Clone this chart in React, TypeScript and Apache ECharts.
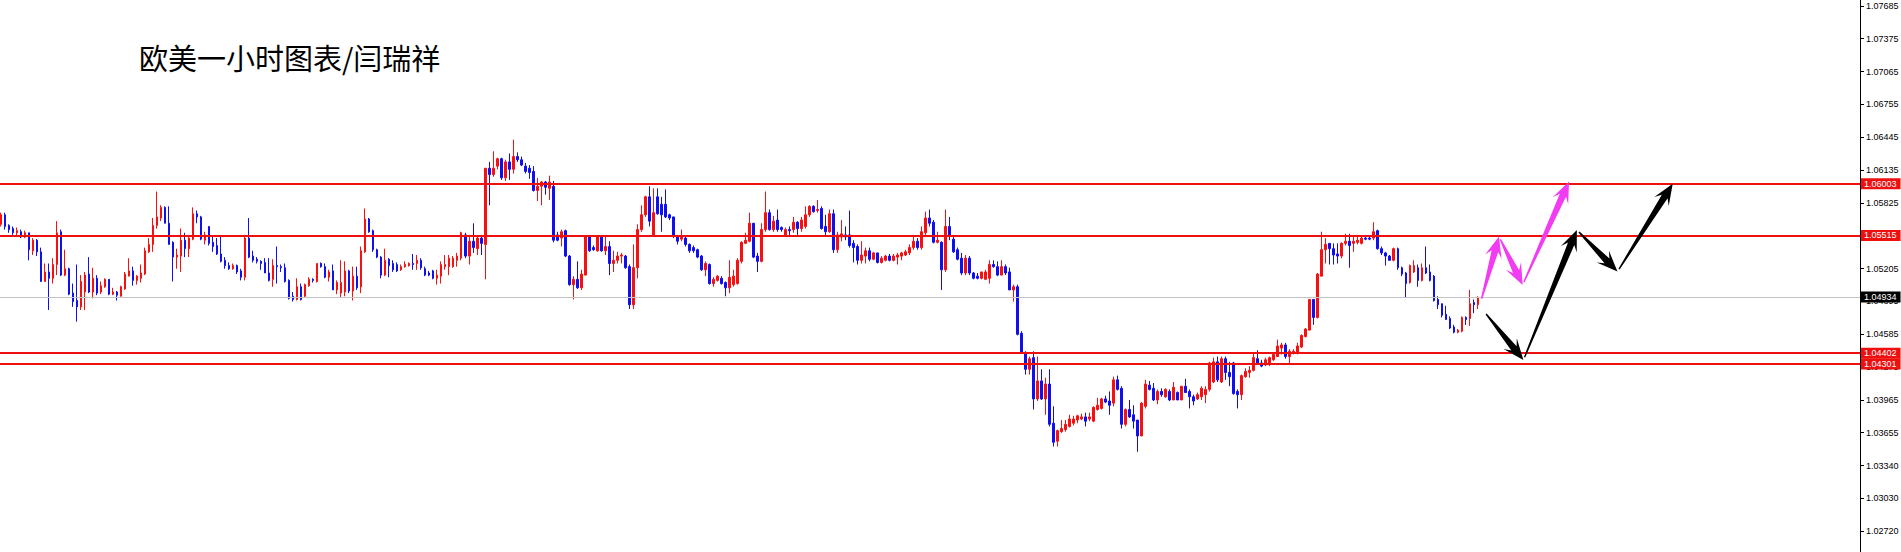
import React, { useEffect, useRef } from "react";
import * as echarts from "echarts";

const TITLE = "欧美一小时图表/闫瑞祥";
const tickLabels = ["1.02720", "1.03030", "1.03340", "1.03655", "1.03965", "1.04275", "1.04585", "1.04895", "1.05205", "1.05515", "1.05825", "1.06135", "1.06445", "1.06755", "1.07065", "1.07375", "1.07685"];
const tickStart = 1.0272;
const tickStep = 0.0031031;
const levelValues = [1.06003, 1.05515, 1.04402, 1.04301];
const currentPrice = 1.04934;
const futureSlots = 95;

// [open, close, low, high]
const candles: number[][] = [
  [1.0562,1.0571,1.0560,1.0573],[1.0571,1.0560,1.0557,1.0573],[1.0561,1.0557,1.0554,1.0562],[1.0558,1.0554,1.0552,1.0560],[1.0554,1.0556,1.0551,1.0559],
  [1.0555,1.0550,1.0549,1.0557],[1.0550,1.0554,1.0549,1.0556],[1.0554,1.0538,1.0528,1.0554],[1.0537,1.0547,1.0533,1.0549],[1.0547,1.0536,1.0532,1.0548],
  [1.0536,1.0508,1.0508,1.0540],[1.0508,1.0517,1.0508,1.0525],[1.0517,1.0511,1.0481,1.0525],[1.0511,1.0524,1.0506,1.0530],[1.0524,1.0554,1.0514,1.0565],
  [1.0555,1.0514,1.0513,1.0557],[1.0514,1.0520,1.0513,1.0538],[1.0520,1.0496,1.0495,1.0521],[1.0497,1.0489,1.0484,1.0506],[1.0490,1.0484,1.0470,1.0524],
  [1.0484,1.0508,1.0481,1.0514],[1.0498,1.0514,1.0481,1.0517],[1.0515,1.0498,1.0497,1.0531],[1.0498,1.0511,1.0492,1.0521],[1.0511,1.0497,1.0495,1.0514],
  [1.0498,1.0504,1.0496,1.0508],[1.0503,1.0510,1.0502,1.0511],[1.0510,1.0496,1.0495,1.0510],[1.0496,1.0498,1.0495,1.0502],[1.0498,1.0495,1.0490,1.0499],
  [1.0494,1.0503,1.0494,1.0504],[1.0501,1.0515,1.0500,1.0517],[1.0513,1.0518,1.0513,1.0530],[1.0518,1.0509,1.0504,1.0522],[1.0509,1.0513,1.0505,1.0514],
  [1.0511,1.0516,1.0507,1.0524],[1.0515,1.0537,1.0514,1.0540],[1.0536,1.0543,1.0535,1.0549],[1.0543,1.0561,1.0536,1.0568],[1.0561,1.0569,1.0558,1.0593],
  [1.0568,1.0578,1.0565,1.0580],[1.0578,1.0563,1.0563,1.0579],[1.0563,1.0543,1.0543,1.0579],[1.0545,1.0531,1.0508,1.0546],[1.0531,1.0533,1.0520,1.0539],
  [1.0532,1.0547,1.0517,1.0558],[1.0547,1.0539,1.0531,1.0554],[1.0539,1.0549,1.0531,1.0552],[1.0548,1.0572,1.0547,1.0578],[1.0572,1.0569,1.0563,1.0575],
  [1.0569,1.0548,1.0547,1.0570],[1.0547,1.0552,1.0543,1.0555],[1.0560,1.0544,1.0542,1.0560],[1.0545,1.0541,1.0536,1.0551],[1.0542,1.0534,1.0533,1.0549],
  [1.0534,1.0527,1.0526,1.0550],[1.0528,1.0523,1.0520,1.0531],[1.0523,1.0520,1.0519,1.0526],[1.0520,1.0523,1.0519,1.0525],[1.0523,1.0517,1.0515,1.0524],
  [1.0518,1.0512,1.0509,1.0520],[1.0512,1.0549,1.0509,1.0552],[1.0549,1.0531,1.0530,1.0568],[1.0532,1.0528,1.0526,1.0537],[1.0529,1.0527,1.0525,1.0531],
  [1.0527,1.0525,1.0519,1.0528],[1.0526,1.0516,1.0516,1.0530],[1.0516,1.0509,1.0508,1.0530],[1.0510,1.0523,1.0503,1.0529],[1.0523,1.0522,1.0506,1.0541],
  [1.0522,1.0521,1.0517,1.0524],[1.0521,1.0508,1.0507,1.0525],[1.0509,1.0492,1.0491,1.0510],[1.0494,1.0491,1.0489,1.0498],[1.0491,1.0503,1.0490,1.0511],
  [1.0503,1.0491,1.0490,1.0506],[1.0494,1.0505,1.0493,1.0506],[1.0504,1.0510,1.0503,1.0512],[1.0510,1.0509,1.0507,1.0511],[1.0508,1.0525,1.0507,1.0525],
  [1.0525,1.0522,1.0521,1.0526],[1.0522,1.0512,1.0511,1.0525],[1.0512,1.0517,1.0508,1.0519],[1.0518,1.0500,1.0500,1.0524],[1.0500,1.0507,1.0496,1.0509],
  [1.0497,1.0507,1.0493,1.0528],[1.0498,1.0518,1.0494,1.0527],[1.0518,1.0499,1.0497,1.0519],[1.0499,1.0513,1.0490,1.0522],[1.0513,1.0502,1.0500,1.0522],
  [1.0503,1.0537,1.0497,1.0541],[1.0536,1.0567,1.0535,1.0577],[1.0567,1.0555,1.0554,1.0568],[1.0556,1.0538,1.0536,1.0557],[1.0538,1.0531,1.0530,1.0539],
  [1.0531,1.0514,1.0511,1.0532],[1.0514,1.0528,1.0513,1.0539],[1.0529,1.0523,1.0512,1.0530],[1.0525,1.0519,1.0517,1.0528],[1.0524,1.0518,1.0517,1.0526],
  [1.0519,1.0522,1.0518,1.0524],[1.0522,1.0524,1.0521,1.0527],[1.0523,1.0525,1.0522,1.0526],[1.0525,1.0524,1.0519,1.0534],[1.0525,1.0528,1.0519,1.0533],
  [1.0528,1.0521,1.0519,1.0530],[1.0520,1.0514,1.0513,1.0522],[1.0516,1.0514,1.0513,1.0518],[1.0518,1.0511,1.0510,1.0519],[1.0511,1.0514,1.0505,1.0519],
  [1.0513,1.0524,1.0506,1.0527],[1.0522,1.0524,1.0519,1.0533],[1.0522,1.0530,1.0514,1.0533],[1.0522,1.0530,1.0521,1.0532],[1.0528,1.0532,1.0522,1.0535],
  [1.0530,1.0554,1.0528,1.0555],[1.0552,1.0532,1.0530,1.0554],[1.0532,1.0546,1.0524,1.0552],[1.0546,1.0540,1.0535,1.0563],[1.0539,1.0549,1.0533,1.0551],
  [1.0549,1.0544,1.0533,1.0552],[1.0543,1.0615,1.0510,1.0615],[1.0615,1.0609,1.0580,1.0621],[1.0609,1.0615,1.0607,1.0631],[1.0617,1.0624,1.0614,1.0625],
  [1.0624,1.0606,1.0604,1.0625],[1.0606,1.0621,1.0603,1.0623],[1.0621,1.0614,1.0604,1.0629],[1.0614,1.0626,1.0610,1.0642],[1.0626,1.0623,1.0621,1.0630],
  [1.0623,1.0618,1.0617,1.0626],[1.0617,1.0612,1.0610,1.0620],[1.0615,1.0611,1.0605,1.0618],[1.0612,1.0594,1.0593,1.0617],[1.0594,1.0598,1.0584,1.0606],
  [1.0598,1.0602,1.0580,1.0603],[1.0602,1.0597,1.0590,1.0603],[1.0596,1.0602,1.0585,1.0608],[1.0598,1.0547,1.0545,1.0603],[1.0552,1.0547,1.0546,1.0555],
  [1.0549,1.0555,1.0541,1.0557],[1.0556,1.0532,1.0531,1.0557],[1.0532,1.0505,1.0504,1.0533],[1.0505,1.0510,1.0491,1.0513],[1.0510,1.0502,1.0501,1.0527],
  [1.0502,1.0515,1.0500,1.0519],[1.0514,1.0550,1.0514,1.0551],[1.0550,1.0537,1.0536,1.0551],[1.0540,1.0538,1.0537,1.0542],[1.0537,1.0550,1.0536,1.0551],
  [1.0550,1.0537,1.0536,1.0551],[1.0537,1.0541,1.0533,1.0551],[1.0541,1.0525,1.0514,1.0546],[1.0525,1.0528,1.0517,1.0537],[1.0528,1.0532,1.0525,1.0536],
  [1.0532,1.0533,1.0525,1.0535],[1.0532,1.0521,1.0520,1.0533],[1.0522,1.0486,1.0482,1.0524],[1.0486,1.0521,1.0482,1.0543],[1.0521,1.0557,1.0511,1.0562],
  [1.0557,1.0571,1.0555,1.0580],[1.0571,1.0588,1.0569,1.0589],[1.0588,1.0565,1.0560,1.0598],[1.0552,1.0573,1.0551,1.0596],[1.0588,1.0572,1.0571,1.0596],
  [1.0581,1.0571,1.0555,1.0588],[1.0581,1.0569,1.0568,1.0595],[1.0571,1.0568,1.0566,1.0572],[1.0569,1.0551,1.0549,1.0569],[1.0551,1.0546,1.0543,1.0552],
  [1.0548,1.0551,1.0546,1.0557],[1.0549,1.0543,1.0541,1.0551],[1.0543,1.0537,1.0535,1.0544],[1.0540,1.0537,1.0535,1.0542],[1.0538,1.0531,1.0530,1.0539],
  [1.0532,1.0519,1.0518,1.0533],[1.0519,1.0525,1.0513,1.0527],[1.0524,1.0506,1.0505,1.0525],[1.0506,1.0510,1.0503,1.0512],[1.0509,1.0513,1.0508,1.0514],
  [1.0511,1.0506,1.0505,1.0513],[1.0507,1.0502,1.0494,1.0508],[1.0502,1.0512,1.0497,1.0528],[1.0505,1.0513,1.0503,1.0519],[1.0506,1.0528,1.0505,1.0530],
  [1.0527,1.0545,1.0525,1.0546],[1.0544,1.0547,1.0544,1.0554],[1.0546,1.0563,1.0545,1.0573],[1.0563,1.0531,1.0530,1.0563],[1.0532,1.0527,1.0517,1.0535],
  [1.0527,1.0557,1.0526,1.0563],[1.0557,1.0573,1.0555,1.0593],[1.0573,1.0557,1.0556,1.0576],[1.0557,1.0565,1.0555,1.0570],[1.0566,1.0557,1.0555,1.0576],
  [1.0559,1.0557,1.0555,1.0560],[1.0551,1.0557,1.0551,1.0559],[1.0557,1.0556,1.0552,1.0560],[1.0557,1.0564,1.0554,1.0569],[1.0564,1.0558,1.0552,1.0565],
  [1.0558,1.0566,1.0555,1.0569],[1.0560,1.0571,1.0558,1.0579],[1.0571,1.0579,1.0569,1.0580],[1.0579,1.0574,1.0573,1.0580],[1.0575,1.0576,1.0573,1.0585],
  [1.0577,1.0558,1.0557,1.0579],[1.0560,1.0555,1.0551,1.0571],[1.0555,1.0572,1.0554,1.0576],[1.0572,1.0538,1.0535,1.0576],[1.0538,1.0552,1.0535,1.0555],
  [1.0550,1.0553,1.0546,1.0566],[1.0552,1.0550,1.0547,1.0560],[1.0552,1.0542,1.0540,1.0575],[1.0544,1.0540,1.0526,1.0547],[1.0541,1.0528,1.0524,1.0543],
  [1.0528,1.0533,1.0525,1.0546],[1.0532,1.0537,1.0525,1.0540],[1.0537,1.0529,1.0527,1.0540],[1.0529,1.0535,1.0528,1.0536],[1.0535,1.0526,1.0525,1.0535],
  [1.0526,1.0530,1.0525,1.0532],[1.0528,1.0532,1.0527,1.0533],[1.0532,1.0528,1.0527,1.0534],[1.0528,1.0532,1.0527,1.0534],[1.0531,1.0533,1.0524,1.0535],
  [1.0532,1.0535,1.0528,1.0536],[1.0533,1.0536,1.0532,1.0538],[1.0535,1.0540,1.0533,1.0543],[1.0540,1.0546,1.0538,1.0551],[1.0546,1.0540,1.0538,1.0549],
  [1.0540,1.0555,1.0538,1.0560],[1.0554,1.0568,1.0552,1.0574],[1.0568,1.0563,1.0560,1.0576],[1.0564,1.0545,1.0544,1.0566],[1.0545,1.0547,1.0544,1.0555],
  [1.0545,1.0519,1.0500,1.0546],[1.0519,1.0560,1.0517,1.0576],[1.0560,1.0552,1.0547,1.0569],[1.0548,1.0536,1.0535,1.0552],[1.0538,1.0529,1.0528,1.0540],
  [1.0530,1.0516,1.0514,1.0535],[1.0516,1.0530,1.0514,1.0533],[1.0530,1.0516,1.0514,1.0532],[1.0516,1.0511,1.0510,1.0517],[1.0513,1.0511,1.0510,1.0516],
  [1.0511,1.0517,1.0510,1.0517],[1.0510,1.0517,1.0510,1.0519],[1.0511,1.0524,1.0506,1.0528],[1.0524,1.0522,1.0521,1.0528],[1.0522,1.0514,1.0513,1.0527],
  [1.0514,1.0522,1.0514,1.0528],[1.0522,1.0516,1.0514,1.0524],[1.0517,1.0500,1.0500,1.0521],[1.0500,1.0503,1.0489,1.0505],[1.0503,1.0458,1.0457,1.0505],
  [1.0459,1.0441,1.0440,1.0461],[1.0441,1.0425,1.0420,1.0442],[1.0425,1.0435,1.0420,1.0437],[1.0436,1.0397,1.0387,1.0442],[1.0397,1.0414,1.0395,1.0437],
  [1.0414,1.0397,1.0396,1.0425],[1.0397,1.0411,1.0382,1.0417],[1.0411,1.0373,1.0371,1.0425],[1.0374,1.0356,1.0352,1.0390],[1.0357,1.0367,1.0352,1.0368],
  [1.0366,1.0369,1.0365,1.0377],[1.0368,1.0373,1.0366,1.0377],[1.0371,1.0378,1.0370,1.0382],[1.0374,1.0378,1.0372,1.0381],[1.0377,1.0381,1.0374,1.0382],
  [1.0378,1.0380,1.0377,1.0383],[1.0380,1.0376,1.0371,1.0384],[1.0378,1.0380,1.0376,1.0384],[1.0376,1.0389,1.0375,1.0390],[1.0387,1.0391,1.0386,1.0398],
  [1.0388,1.0397,1.0387,1.0398],[1.0397,1.0394,1.0393,1.0400],[1.0395,1.0391,1.0382,1.0404],[1.0393,1.0415,1.0390,1.0418],[1.0415,1.0406,1.0405,1.0419],
  [1.0407,1.0373,1.0369,1.0409],[1.0373,1.0387,1.0371,1.0388],[1.0387,1.0380,1.0379,1.0396],[1.0382,1.0376,1.0369,1.0391],[1.0377,1.0362,1.0347,1.0377],
  [1.0362,1.0393,1.0362,1.0394],[1.0390,1.0411,1.0388,1.0415],[1.0410,1.0406,1.0405,1.0414],[1.0407,1.0396,1.0395,1.0412],[1.0396,1.0404,1.0392,1.0406],
  [1.0404,1.0401,1.0399,1.0407],[1.0399,1.0406,1.0398,1.0407],[1.0404,1.0396,1.0395,1.0406],[1.0396,1.0408,1.0396,1.0413],[1.0403,1.0396,1.0396,1.0404],
  [1.0396,1.0409,1.0396,1.0409],[1.0409,1.0403,1.0403,1.0416],[1.0404,1.0399,1.0388,1.0406],[1.0399,1.0395,1.0391,1.0401],[1.0397,1.0401,1.0396,1.0403],
  [1.0399,1.0407,1.0396,1.0409],[1.0401,1.0406,1.0393,1.0409],[1.0406,1.0431,1.0404,1.0432],[1.0413,1.0432,1.0412,1.0436],[1.0432,1.0415,1.0413,1.0437],
  [1.0413,1.0435,1.0412,1.0437],[1.0435,1.0422,1.0415,1.0437],[1.0422,1.0418,1.0409,1.0432],[1.0431,1.0402,1.0401,1.0432],[1.0404,1.0401,1.0388,1.0406],
  [1.0401,1.0419,1.0396,1.0420],[1.0418,1.0423,1.0417,1.0426],[1.0422,1.0424,1.0417,1.0428],[1.0424,1.0436,1.0423,1.0440],[1.0435,1.0431,1.0431,1.0443],
  [1.0431,1.0428,1.0427,1.0434],[1.0429,1.0434,1.0428,1.0436],[1.0430,1.0436,1.0428,1.0437],[1.0434,1.0439,1.0433,1.0440],[1.0437,1.0447,1.0437,1.0453],
  [1.0445,1.0448,1.0439,1.0450],[1.0448,1.0437,1.0435,1.0450],[1.0437,1.0442,1.0430,1.0444],[1.0440,1.0442,1.0439,1.0444],[1.0440,1.0447,1.0439,1.0450],
  [1.0446,1.0457,1.0445,1.0458],[1.0456,1.0463,1.0455,1.0464],[1.0462,1.0491,1.0462,1.0491],[1.0491,1.0474,1.0467,1.0491],[1.0474,1.0515,1.0473,1.0516],
  [1.0513,1.0538,1.0513,1.0555],[1.0538,1.0543,1.0525,1.0549],[1.0544,1.0539,1.0524,1.0544],[1.0539,1.0533,1.0524,1.0544],[1.0534,1.0532,1.0525,1.0544],
  [1.0532,1.0544,1.0530,1.0545],[1.0544,1.0546,1.0542,1.0553],[1.0546,1.0542,1.0521,1.0553],[1.0544,1.0546,1.0536,1.0551],[1.0545,1.0547,1.0543,1.0550],
  [1.0544,1.0549,1.0543,1.0550],[1.0549,1.0548,1.0547,1.0550],[1.0549,1.0548,1.0547,1.0550],[1.0549,1.0555,1.0547,1.0564],[1.0556,1.0539,1.0538,1.0557],
  [1.0539,1.0535,1.0533,1.0541],[1.0535,1.0532,1.0523,1.0536],[1.0532,1.0528,1.0528,1.0533],[1.0528,1.0539,1.0527,1.0540],[1.0539,1.0521,1.0519,1.0540],
  [1.0521,1.0515,1.0513,1.0522],[1.0516,1.0506,1.0493,1.0517],[1.0507,1.0523,1.0506,1.0524],[1.0517,1.0523,1.0516,1.0528],[1.0521,1.0509,1.0503,1.0524],
  [1.0509,1.0521,1.0508,1.0525],[1.0521,1.0516,1.0515,1.0541],[1.0517,1.0509,1.0508,1.0524],[1.0513,1.0490,1.0489,1.0514],[1.0491,1.0486,1.0482,1.0494],
  [1.0487,1.0476,1.0474,1.0487],[1.0477,1.0472,1.0472,1.0485],[1.0473,1.0464,1.0463,1.0475],[1.0465,1.0460,1.0459,1.0467],[1.0460,1.0462,1.0459,1.0463],
  [1.0461,1.0474,1.0460,1.0475],[1.0474,1.0472,1.0467,1.0475],[1.0473,1.0487,1.0466,1.0500],[1.0488,1.0486,1.0478,1.0491],[1.0486,1.0493,1.0482,1.0494],
];

// hand-drawn forecast arrows: [category index, price]
const magentaPath = [[369.75, 1.04889], [374.3, 1.05504], [380.2, 1.05047], [391.8, 1.06024]];
const blackPath = [[370.6, 1.04795], [380.4, 1.04338], [393.75, 1.05567], [403.9, 1.05173], [417.7, 1.06003]];

const UP = "#f80f0f";
const DOWN = "#0f0ff0";
const LEVEL = "#ee0f0f";
const MAGENTA = "#f23cf2";
const AXIS_FONT = '"Liberation Sans", Arial, sans-serif';

function arrowPoly(p0: number[], p1: number[], gap: number) {
  const dx = p1[0] - p0[0];
  const dy = p1[1] - p0[1];
  const len = Math.hypot(dx, dy) || 1;
  const ux = dx / len, uy = dy / len;
  const nx = -uy, ny = ux;
  const sx = p0[0] + ux * gap, sy = p0[1] + uy * gap;
  const headLen = 21, headHalf = 8.5, neck = 15, shaftHalf = 3.4, tailHalf = 0.7;
  const at = (d: number, w: number) => [p1[0] - ux * d + nx * w, p1[1] - uy * d + ny * w];
  return [
    [sx + nx * tailHalf, sy + ny * tailHalf],
    at(neck, shaftHalf),
    at(headLen, headHalf),
    [p1[0], p1[1]],
    at(headLen, -headHalf),
    at(neck, -shaftHalf),
    [sx - nx * tailHalf, sy - ny * tailHalf],
  ];
}

export default function App() {
  const ref = useRef<HTMLDivElement>(null);
  useEffect(() => {
    const chart = echarts.init(ref.current!, null, { renderer: "svg" });
    const slotCount = candles.length + futureSlots;
    const cats = Array.from({ length: slotCount }, (_, i) => String(i));
    const axisMin = tickStart - tickStep;
    const axisMax = tickStart + 17 * tickStep;
    chart.setOption({
      animation: false,
      backgroundColor: "#ffffff",
      grid: { left: -1, right: 41, top: -27, bottom: -12, outerBoundsMode: "none" },
      xAxis: { type: "category", data: cats, show: false, boundaryGap: true },
      yAxis: {
        type: "value",
        position: "right",
        min: axisMin,
        max: axisMax,
        interval: tickStep,
        axisLine: { show: true, lineStyle: { color: "#000", width: 1 } },
        axisTick: { show: true, length: 4, inside: false, lineStyle: { color: "#000" } },
        splitLine: { show: false },
        axisLabel: {
          margin: 6,
          color: "#000",
          fontSize: 9,
          fontFamily: AXIS_FONT,
          formatter: (v: number) => tickLabels[Math.round((v - tickStart) / tickStep)] ?? "",
        },
      },
      series: [
        {
          type: "candlestick",
          data: candles,
          barWidth: 2,
          itemStyle: { color: UP, color0: DOWN, borderColor: UP, borderColor0: DOWN, borderWidth: 1 },
          markLine: {
            silent: true,
            symbol: ["none", "none"],
            precision: 5,
            animation: false,
            label: {
              show: true,
              position: "end",
              distance: 1,
              padding: [1, 4, 1, 3],
              fontSize: 9,
              fontFamily: AXIS_FONT,
            },
            data: [
              {
                yAxis: currentPrice,
                lineStyle: { color: "#c4c4c4", width: 1, type: "solid" },
                label: { formatter: currentPrice.toFixed(5), backgroundColor: "#000", color: "#fff" },
              },
              ...levelValues.map((v) => ({
                yAxis: v,
                lineStyle: { color: LEVEL, width: 2, type: "solid" },
                label: { formatter: v.toFixed(5), backgroundColor: LEVEL, color: "#fff" },
              })),
            ],
          },
        },
      ],
    });

    const toPx = (p: number[]) => {
      const i0 = Math.floor(p[0]);
      const f = p[0] - i0;
      const a = chart.convertToPixel({ gridIndex: 0 }, [i0, p[1]]) as number[];
      const b = chart.convertToPixel({ gridIndex: 0 }, [i0 + 1, p[1]]) as number[];
      return [a[0] + (b[0] - a[0]) * f, a[1]];
    };

    const arrows: any[] = [];
    ([[magentaPath, MAGENTA], [blackPath, "#000000"]] as [number[][], string][]).forEach(([path, color]) => {
      const pts = path.map(toPx);
      for (let k = 0; k < pts.length - 1; k++) {
        arrows.push({
          type: "polygon",
          silent: true,
          z: 100,
          shape: { points: arrowPoly(pts[k], pts[k + 1], 3) },
          style: { fill: color },
        });
      }
    });

    chart.setOption({
      graphic: [
        {
          type: "text",
          x: 139,
          y: 57,
          silent: true,
          style: {
            text: TITLE,
            fill: "#000",
            fontSize: 29,
            fontFamily: '"Noto Sans CJK SC", sans-serif',
            verticalAlign: "middle",
          },
        },
        ...arrows,
      ],
    });

    return () => chart.dispose();
  }, []);

  return (
    <div
      ref={ref}
      style={{ position: "fixed", left: 0, top: 0, width: 1901, height: 552, overflow: "hidden", background: "#fff" }}
    />
  );
}
